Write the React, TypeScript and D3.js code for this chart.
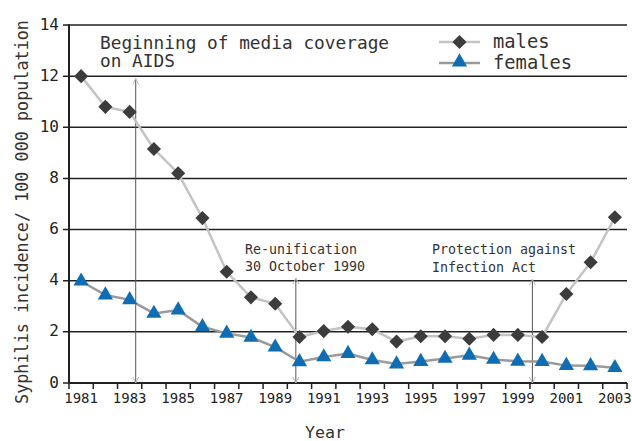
import React from "react";
import * as d3 from "d3";

const years = d3.range(1981, 2004);
const tickYears = [1981, 1983, 1985, 1987, 1989, 1991, 1993, 1995, 1997, 1999, 2001, 2003];
const yTicks = [0, 2, 4, 6, 8, 10, 12, 14];
const males = [12.0, 10.8, 10.6, 9.15, 8.2, 6.45, 4.35, 3.35, 3.1, 1.8, 2.03, 2.2, 2.1, 1.62, 1.83, 1.83, 1.73, 1.88, 1.88, 1.8, 3.48, 4.72, 6.48];
const females = [3.98, 3.44, 3.25, 2.72, 2.85, 2.2, 1.94, 1.78, 1.4, 0.83, 1.02, 1.15, 0.9, 0.74, 0.84, 0.96, 1.08, 0.92, 0.85, 0.84, 0.68, 0.67, 0.6];
const events = [
  { year: 1983.25, top: 11.9, lines: ["Beginning of media coverage", "on AIDS"] },
  { year: 1989.85, top: 4.1, lines: ["Re-unification", "30 October 1990"] },
  { year: 1999.6, top: 4.05, lines: ["Protection against", "Infection Act"] },
];

const W = 632, H = 441;
const L = 69, R = 627, T = 25, B = 383;
const FONT = "'DejaVu Sans Mono', monospace";

export default function App() {
  const xb = d3.scaleBand<number>().domain(years).range([L, R]).padding(0);
  const bw = xb.bandwidth();
  const xc = (yr: number) => (xb(yr) as number) + bw / 2;
  const xl = d3.scaleLinear().domain([1981, 2003]).range([xc(1981), xc(2003)]);
  const y = d3.scaleLinear().domain([0, 14]).range([B, T]);

  const line = d3.line<number>().x((_, i) => xc(years[i])).y((d) => y(d));
  const diamond = d3.symbol().type(d3.symbolSquare).size(100)();
  const tri = d3.symbol().type(d3.symbolTriangle).size(100)();
  const boundaries = years.map((yr) => xb(yr) as number).concat([R]);

  const textPos = [
    { x: 100, y1: 48.5, y2: 66.5, size: 17.8 },
    { x: 245, y1: 254.3, y2: 271, size: 13.3 },
    { x: 432, y1: 253.5, y2: 271.5, size: 13.3 },
  ];

  const arrowHead = (x: number, yy: number, dir: number) =>
    `M${x - 3},${yy + dir * 6}L${x},${yy}L${x + 3},${yy + dir * 6}`;

  return (
    <svg width={W} height={H} style={{ position: "absolute", left: 0, top: 0, background: "#fff" }}>
      {/* gridlines */}
      {yTicks.filter((t) => t > 0).map((t) => (
        <line key={t} x1={L - 6} x2={R} y1={y(t)} y2={y(t)} stroke="#222" strokeWidth={1.5} />
      ))}
      <line x1={L - 6} x2={L} y1={y(0)} y2={y(0)} stroke="#222" strokeWidth={1.5} />
      {/* axes */}
      <line x1={L} x2={L} y1={T - 0.75} y2={B} stroke="#222" strokeWidth={2} />
      <line x1={L} x2={R} y1={B} y2={B} stroke="#222" strokeWidth={2} />
      {boundaries.map((bx, i) => (
        <line key={i} x1={bx} x2={bx} y1={B} y2={B + 6} stroke="#222" strokeWidth={1.5} />
      ))}
      {/* y tick labels */}
      {yTicks.map((t) => (
        <text key={t} x={59} y={y(t)} textAnchor="end" dominantBaseline="middle" fontFamily={FONT} fontSize={16} fill="#222">
          {t}
        </text>
      ))}
      {/* x tick labels */}
      {tickYears.map((yr) => (
        <text key={yr} x={xc(yr)} y={403} textAnchor="middle" fontFamily={FONT} fontSize={14} fill="#222">
          {yr}
        </text>
      ))}
      {/* axis titles */}
      <text transform={`translate(28,212) rotate(-90)`} textAnchor="middle" fontFamily={FONT} fontSize={16.8} fill="#333">
        Syphilis incidence/ 100 000 population
      </text>
      <text x={325} y={438} textAnchor="middle" fontFamily={FONT} fontSize={16.6} fill="#333">
        Year
      </text>
      {/* event arrows */}
      {events.map((e, i) => {
        const ex = xl(e.year);
        return (
          <g key={i} strokeWidth={1} fill="none">
            <line x1={ex} x2={ex} y1={y(e.top)} y2={B} stroke="#555" />
            <path d={arrowHead(ex, y(e.top), 1)} stroke="#bbb" />
            <path d={arrowHead(ex, B, -1)} stroke="#bbb" />
          </g>
        );
      })}
      {/* event labels */}
      {events.map((e, i) => (
        <g key={i} fontFamily={FONT} fontSize={textPos[i].size} fill="#333">
          <text x={textPos[i].x} y={textPos[i].y1}>{e.lines[0]}</text>
          <text x={textPos[i].x} y={textPos[i].y2}>{e.lines[1]}</text>
        </g>
      ))}
      {/* series lines */}
      <path d={line(males) as string} fill="none" stroke="#c4c4c4" strokeWidth={2.5} />
      <path d={line(females) as string} fill="none" stroke="#9a9a9a" strokeWidth={2.5} />
      {/* markers */}
      {males.map((v, i) => (
        <path key={i} d={diamond as string} transform={`translate(${xc(years[i])},${y(v)}) rotate(45)`} fill="#3c3c3c" />
      ))}
      {females.map((v, i) => (
        <path key={i} d={tri as string} transform={`translate(${xc(years[i])},${y(v)})`} fill="#0f6db3" />
      ))}
      {/* legend */}
      <line x1={439} x2={480} y1={42} y2={42} stroke="#c4c4c4" strokeWidth={2.5} />
      <path d={diamond as string} transform="translate(459.5,42) rotate(45)" fill="#3c3c3c" />
      <line x1={439} x2={480} y1={63} y2={63} stroke="#9a9a9a" strokeWidth={2.5} />
      <path d={tri as string} transform="translate(459.5,62)" fill="#0f6db3" />
      <text x={493} y={48} fontFamily={FONT} fontSize={18.8} fill="#333">males</text>
      <text x={493} y={69} fontFamily={FONT} fontSize={18.8} fill="#333">females</text>
    </svg>
  );
}
